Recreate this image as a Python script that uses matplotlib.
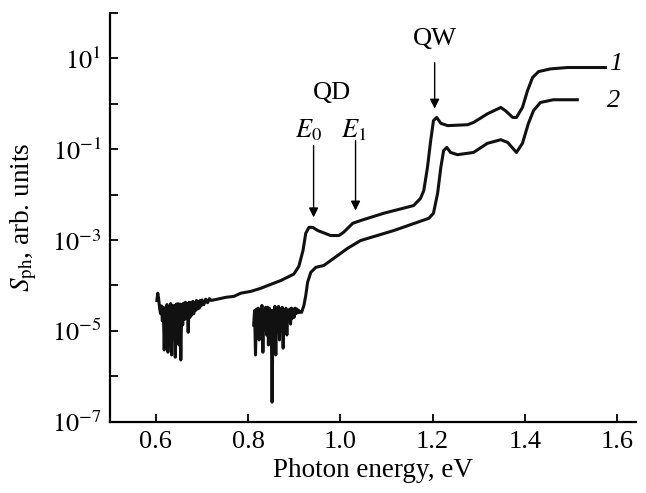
import numpy as np
import matplotlib
matplotlib.use('Agg')
import matplotlib.pyplot as plt
from matplotlib.ticker import FixedLocator, FuncFormatter

plt.rcParams['font.family'] = ['Liberation Serif', 'DejaVu Serif']
plt.rcParams['mathtext.fontset'] = 'stix'

# curve 1: photon energy (eV) and log10 of S_ph
x1 = [0.602, 0.604, 0.606, 0.608, 0.610, 0.612, 0.614, 0.616, 0.618, 0.620,
      0.622, 0.624, 0.626, 0.628, 0.630, 0.632, 0.634, 0.636, 0.638, 0.640,
      0.642, 0.644, 0.646, 0.648, 0.650, 0.652, 0.654, 0.656, 0.658, 0.660,
      0.662, 0.664, 0.666, 0.668, 0.670, 0.672, 0.674, 0.676, 0.678, 0.680,
      0.682, 0.684, 0.686, 0.688, 0.690, 0.692, 0.694, 0.696, 0.698, 0.700,
      0.704, 0.708, 0.712, 0.716, 0.720,
      0.734, 0.752, 0.769, 0.784, 0.806, 0.828, 0.843, 0.871, 0.877, 0.899,
      0.910, 0.919, 0.925, 0.932, 0.940, 0.951, 0.979, 0.997, 1.007, 1.027,
      1.044, 1.094, 1.159, 1.174, 1.181, 1.189, 1.196, 1.202, 1.209, 1.218,
      1.233, 1.276, 1.289, 1.319, 1.348, 1.358, 1.374, 1.382, 1.395, 1.406,
      1.417, 1.430, 1.456, 1.493, 1.575]
logs1 = [-4.33, -4.17, -4.30, -4.50, -4.62, -4.45, -4.78, -4.48, -5.42, -4.50,
         -4.85, -4.42, -5.47, -4.46, -4.80, -4.40, -5.53, -4.44, -5.09, -4.45,
         -5.58, -4.41, -4.81, -4.40, -5.31, -4.41, -5.64, -4.42, -4.87, -4.39,
         -4.75, -4.37, -4.72, -4.40, -5.03, -4.37, -4.70, -4.38, -4.65, -4.35,
         -4.62, -4.37, -4.55, -4.33, -4.52, -4.35, -4.50, -4.33, -4.45, -4.32,
         -4.42, -4.30, -4.38, -4.29, -4.33,
         -4.30, -4.26, -4.24, -4.17, -4.13, -4.06, -4.00, -3.89, -3.86, -3.75,
         -3.58, -3.23, -2.85, -2.72, -2.72, -2.79, -2.90, -2.90, -2.83, -2.63,
         -2.57, -2.41, -2.24, -2.08, -1.91, -1.40, -0.81, -0.37, -0.30, -0.43,
         -0.48, -0.46, -0.41, -0.22, -0.08, -0.15, -0.30, -0.30, -0.08, 0.29,
         0.58, 0.71, 0.77, 0.80, 0.80]

# curve 2
x2 = [0.812, 0.814, 0.816, 0.818, 0.820, 0.822, 0.824, 0.826, 0.828, 0.830,
      0.832, 0.834, 0.836, 0.838, 0.840, 0.842, 0.844, 0.846, 0.848, 0.850,
      0.852, 0.854, 0.856, 0.858, 0.860, 0.862, 0.864, 0.866, 0.868, 0.870,
      0.872, 0.874, 0.876, 0.878, 0.880, 0.882, 0.884, 0.886, 0.888, 0.890,
      0.892, 0.894, 0.896, 0.898, 0.900, 0.902, 0.904, 0.906, 0.908, 0.910,
      0.912, 0.916, 0.921, 0.925, 0.929,
      0.936, 0.947, 0.964, 0.986, 1.016, 1.044, 1.116, 1.192, 1.202, 1.211,
      1.218, 1.224, 1.231, 1.239, 1.254, 1.289, 1.319, 1.348, 1.363, 1.382,
      1.395, 1.408, 1.419, 1.434, 1.462, 1.514]
logs2 = [-4.87, -4.55, -5.53, -4.52, -4.98, -4.50, -5.20, -4.55, -4.81, -4.44,
         -5.47, -4.55, -4.85, -4.48, -5.09, -4.48, -5.31, -4.50, -4.90, -4.55,
         -6.57, -4.55, -4.98, -4.46, -5.53, -4.50, -4.87, -4.46, -5.20, -4.52,
         -4.76, -4.48, -5.38, -4.55, -4.98, -4.50, -5.09, -4.55, -4.72, -4.52,
         -4.85, -4.50, -4.72, -4.52, -4.70, -4.50, -4.62, -4.52, -4.60, -4.55,
         -4.59, -4.59, -4.44, -4.22, -3.93,
         -3.71, -3.60, -3.56, -3.40, -3.18, -3.01, -2.79, -2.52, -2.41, -1.97,
         -1.40, -1.03, -0.96, -1.07, -1.12, -1.07, -0.87, -0.79, -0.85, -1.07,
         -0.87, -0.43, -0.15, 0.03, 0.09, 0.09]

y_exponents = [-7, -6, -5, -4, -3, -2, -1, 0, 1, 2]
x_ticks = [0.6, 0.8, 1.0, 1.2, 1.4, 1.6]

fig = plt.figure(figsize=(6.46, 4.93), dpi=100)
ax = fig.add_axes([0.170, 0.1446, 0.815, 0.829])

ax.plot(x1, 10.0 ** np.array(logs1), color='#111111', lw=2.2, solid_joinstyle='round')
ax.plot(x2, 10.0 ** np.array(logs2), color='#111111', lw=2.2, solid_joinstyle='round')

ax.set_yscale('log')
ax.set_xlim(0.5, 1.642)
ax.set_ylim(1e-7, 1e2)
ax.yaxis.set_major_locator(FixedLocator([10.0 ** e for e in y_exponents]))
ax.yaxis.set_minor_locator(FixedLocator([]))
ax.yaxis.set_major_formatter(FuncFormatter(
    lambda v, p: r'$10^{%d}$' % round(np.log10(v)) if round(np.log10(v)) % 2 else ''))
ax.set_xticks(x_ticks)
ax.set_xticklabels(['%.1f' % t for t in x_ticks])

for s in ['top', 'right']:
    ax.spines[s].set_visible(False)
for s in ['left', 'bottom']:
    ax.spines[s].set_linewidth(1.6)
ax.tick_params(direction='in', length=6, width=1.3, labelsize=19, pad=7)
ax.tick_params(axis='y', pad=6)

ax.set_xlabel('Photon energy, eV', fontsize=19.5, labelpad=3)
ax.set_ylabel(r'$S_{\mathrm{ph}}$, arb. units', fontsize=19.5, labelpad=9)

arrow = dict(arrowstyle='-|>', color='black', lw=1.0, mutation_scale=14, shrinkA=0, shrinkB=0)
ax.annotate('', xy=(1.2046, 10 ** -0.105), xytext=(1.2046, 10 ** 0.905), arrowprops=arrow)
ax.annotate('', xy=(0.942, 10 ** -2.50), xytext=(0.942, 10 ** -0.92), arrowprops=arrow)
ax.annotate('', xy=(1.033, 10 ** -2.35), xytext=(1.033, 10 ** -0.81), arrowprops=arrow)

ax.text(1.2046, 10 ** 1.43, 'QW', fontsize=19, ha='center', va='center')
ax.text(0.981, 10 ** 0.246, 'QD', fontsize=19, ha='center', va='center')
ax.text(0.932, 10 ** -0.589, r'$E_0$', fontsize=19, ha='center', va='center')
ax.text(1.029, 10 ** -0.589, r'$E_1$', fontsize=19, ha='center', va='center')
ax.text(1.597, 10 ** 0.88, '1', fontsize=19, style='italic', ha='center', va='center')
ax.text(1.592, 10 ** 0.07, '2', fontsize=19, style='italic', ha='center', va='center')

fig.savefig('out.png', dpi=100)
